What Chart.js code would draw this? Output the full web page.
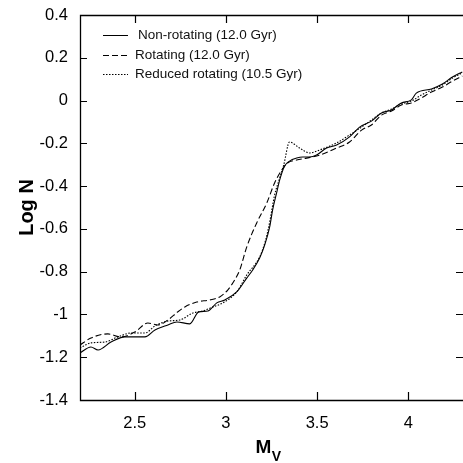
<!DOCTYPE html>
<html>
<head>
<meta charset="utf-8">
<script src="https://cdn.jsdelivr.net/npm/chart.js@4.4.1/dist/chart.umd.min.js"></script>
<style>
  body { margin: 0; background: #fff; }
  #wrap { width: 463px; height: 463px; }
</style>
</head>
<body>
<div id="wrap"><canvas id="lf" width="463" height="463"></canvas></div>
<script>
// luminosity function
const nonRotMag = [2.200, 2.260, 2.299, 2.370, 2.446, 2.556, 2.611, 2.682, 2.731, 2.802, 2.851, 2.901, 2.950, 2.994, 3.059, 3.114, 3.147, 3.185, 3.213, 3.240, 3.256, 3.278, 3.295, 3.322, 3.349, 3.388, 3.421, 3.459, 3.497, 3.552, 3.607, 3.678, 3.733, 3.798, 3.853, 3.908, 3.962, 4.017, 4.044, 4.127, 4.187, 4.242, 4.296];
const nonRotLogN = [-1.180, -1.152, -1.166, -1.129, -1.105, -1.105, -1.073, -1.049, -1.035, -1.044, -0.988, -0.984, -0.946, -0.932, -0.895, -0.830, -0.792, -0.736, -0.675, -0.591, -0.512, -0.432, -0.371, -0.306, -0.283, -0.269, -0.264, -0.264, -0.255, -0.222, -0.208, -0.170, -0.124, -0.096, -0.058, -0.044, -0.011, 0.003, 0.035, 0.054, 0.077, 0.110, 0.134];

const rotMag = [2.200, 2.260, 2.353, 2.424, 2.501, 2.572, 2.627, 2.682, 2.736, 2.775, 2.840, 2.912, 2.966, 3.010, 3.048, 3.076, 3.114, 3.169, 3.224, 3.267, 3.306, 3.338, 3.388, 3.442, 3.514, 3.607, 3.678, 3.744, 3.798, 3.853, 3.908, 3.962, 4.017, 4.061, 4.127, 4.187, 4.242, 4.296];
const rotLogN = [-1.143, -1.110, -1.091, -1.105, -1.082, -1.040, -1.049, -1.026, -0.988, -0.965, -0.942, -0.932, -0.918, -0.886, -0.839, -0.792, -0.685, -0.572, -0.479, -0.385, -0.325, -0.292, -0.278, -0.269, -0.255, -0.222, -0.194, -0.138, -0.114, -0.068, -0.049, -0.021, -0.011, 0.007, 0.040, 0.063, 0.091, 0.115];

const redRotMag = [2.200, 2.260, 2.337, 2.408, 2.479, 2.556, 2.611, 2.682, 2.747, 2.819, 2.873, 2.928, 2.983, 3.059, 3.114, 3.185, 3.218, 3.240, 3.267, 3.295, 3.317, 3.349, 3.404, 3.459, 3.514, 3.607, 3.678, 3.744, 3.798, 3.853, 3.908, 3.962, 4.017, 4.072, 4.127, 4.187, 4.242, 4.296];
const redRotLogN = [-1.157, -1.133, -1.129, -1.105, -1.087, -1.087, -1.054, -1.031, -1.026, -0.993, -0.984, -0.965, -0.946, -0.895, -0.816, -0.731, -0.652, -0.568, -0.442, -0.362, -0.301, -0.194, -0.222, -0.245, -0.231, -0.198, -0.161, -0.124, -0.091, -0.058, -0.040, -0.016, -0.002, 0.026, 0.049, 0.073, 0.105, 0.129];

const xTickValues = [2.5, 3, 3.5, 4];
const legendLabels = ['Non-rotating (12.0 Gyr)', 'Rotating (12.0 Gyr)', 'Reduced rotating (10.5 Gyr)'];

function toPoints(xs, ys) {
    return xs.map((x, i) => ({ x: x, y: ys[i] }));
}

const dashes = [[], [6, 3], [1.5, 1.5]];

// box (right edge runs off the picture), inward ticks, legend and the M_V title
const framePlugin = {
    id: 'frame',
    afterDraw(chart) {
        const ctx = chart.ctx;
        const a = chart.chartArea;
        const xs = chart.scales.x;
        const ys = chart.scales.y;
        ctx.save();
        ctx.strokeStyle = '#000';
        ctx.lineWidth = 1.3;
        ctx.setLineDash([]);
        ctx.beginPath();
        ctx.moveTo(chart.width + 2, a.top + 0.5);
        ctx.lineTo(a.left + 0.5, a.top + 0.5);
        ctx.lineTo(a.left + 0.5, a.bottom + 0.5);
        ctx.lineTo(chart.width + 2, a.bottom + 0.5);
        ctx.stroke();

        ctx.lineWidth = 1.2;
        ctx.beginPath();
        xTickValues.forEach(v => {
            const px = Math.round(xs.getPixelForValue(v)) + 0.5;
            ctx.moveTo(px, a.bottom); ctx.lineTo(px, a.bottom - 8);
            ctx.moveTo(px, a.top); ctx.lineTo(px, a.top + 8);
        });
        ys.ticks.forEach(t => {
            const py = Math.round(ys.getPixelForValue(t.value)) + 0.5;
            ctx.moveTo(a.left, py); ctx.lineTo(a.left + 7, py);
            ctx.moveTo(chart.width, py); ctx.lineTo(chart.width - 7, py);
        });
        ctx.stroke();

        // legend
        const rows = [35, 55, 74];
        ctx.font = '13.5px "Liberation Sans", Arial, sans-serif';
        ctx.fillStyle = '#111';
        ctx.textBaseline = 'middle';
        ctx.textAlign = 'left';
        rows.forEach((y, i) => {
            ctx.lineWidth = 1;
            ctx.setLineDash(dashes[i]);
            ctx.beginPath();
            ctx.moveTo(103, y + 0.5);
            ctx.lineTo(128, y + 0.5);
            ctx.stroke();
            ctx.fillText(legendLabels[i], i === 0 ? 138 : 135, y);
        });

        // x title with subscript
        ctx.setLineDash([]);
        ctx.fillStyle = '#000';
        ctx.textBaseline = 'alphabetic';
        ctx.font = 'bold 19px "Liberation Sans", Arial, sans-serif';
        const mW = ctx.measureText('M').width;
        ctx.font = 'bold 14px "Liberation Sans", Arial, sans-serif';
        const vW = ctx.measureText('V').width;
        const x0 = 268 - (mW + vW) / 2;
        ctx.font = 'bold 19px "Liberation Sans", Arial, sans-serif';
        ctx.fillText('M', x0, 453);
        ctx.font = 'bold 14px "Liberation Sans", Arial, sans-serif';
        ctx.fillText('V', x0 + mW + 0.5, 461);
        ctx.restore();
    }
};

const tickFont = { family: '"Liberation Sans", Arial, sans-serif', size: 16.5 };

new Chart(document.getElementById('lf').getContext('2d'), {
    type: 'line',
    data: {
        datasets: [
            { label: legendLabels[0], data: toPoints(nonRotMag, nonRotLogN), borderDash: dashes[0] },
            { label: legendLabels[1], data: toPoints(rotMag, rotLogN), borderDash: dashes[1] },
            { label: legendLabels[2], data: toPoints(redRotMag, redRotLogN), borderDash: dashes[2] }
        ].map(d => Object.assign(d, {
            borderColor: '#000',
            borderWidth: 1.1,
            pointRadius: 0,
            fill: false,
            cubicInterpolationMode: 'monotone'
        }))
    },
    options: {
        responsive: false,
        animation: false,
        layout: { padding: { top: 15, right: 0, left: 0, bottom: 0 } },
        plugins: { legend: { display: false }, tooltip: { enabled: false } },
        scales: {
            x: {
                type: 'linear',
                min: 2.2,
                max: 4.3,
                afterBuildTicks: s => { s.ticks = xTickValues.map(v => ({ value: v })); },
                afterFit: s => { s.height = 63; s.paddingLeft = 0; s.paddingRight = 0; },
                grid: { display: false, drawTicks: false },
                border: { display: false },
                ticks: {
                    color: '#000', font: tickFont, padding: 14, maxRotation: 0,
                    callback: v => String(Number(v.toFixed(1)))
                }
            },
            y: {
                min: -1.4,
                max: 0.4,
                afterFit: s => { s.width = 80; s.paddingTop = 0; s.paddingBottom = 0; },
                grid: { display: false, drawTicks: false },
                border: { display: false },
                ticks: {
                    color: '#000', font: tickFont, padding: 12, stepSize: 0.2,
                    callback: v => String(Number(v.toFixed(1)))
                },
                title: {
                    display: true,
                    text: 'Log N',
                    color: '#000',
                    font: { family: '"Liberation Sans", Arial, sans-serif', size: 20, weight: 'bold' },
                    padding: { top: 15, bottom: 0 }
                }
            }
        }
    },
    plugins: [framePlugin]
});
</script>
</body>
</html>
